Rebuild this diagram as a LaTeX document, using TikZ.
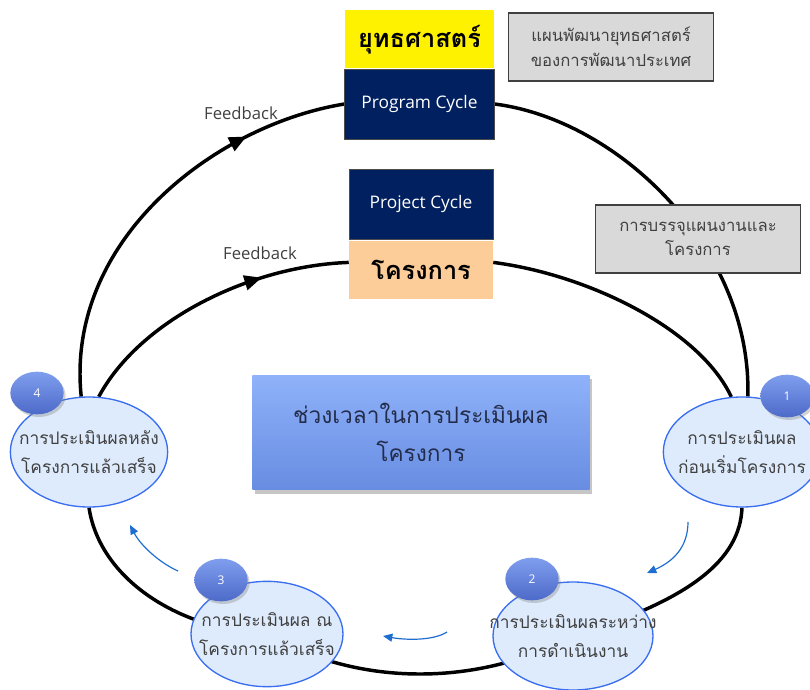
\documentclass[tikz,border=0pt]{standalone}
\usepackage{fontspec}
\setmainfont{Open Sans}
\newfontfamily\thaifont[Script=Thai]{Loma}
\usetikzlibrary{positioning, arrows.meta, shapes.geometric, shadows, decorations.markings, backgrounds}

\definecolor{navybox}{RGB}{0,32,96}
\definecolor{peachbox}{RGB}{252,204,153}
\definecolor{boxgray}{RGB}{217,217,217}
\definecolor{evalfill}{RGB}{222,235,252}
\definecolor{evalline}{RGB}{58,110,240}
\definecolor{flowblue}{RGB}{30,110,210}
\definecolor{badgetop}{RGB}{128,158,238}
\definecolor{badgebot}{RGB}{76,106,200}
\definecolor{centertop}{RGB}{143,178,250}
\definecolor{centerbot}{RGB}{104,140,225}
\definecolor{textdark}{RGB}{64,64,64}
\definecolor{titleblue}{RGB}{35,45,75}

\tikzset{
    cyclebox/.style={fill=navybox, draw=black!70, line width=0.6pt, text=white, font=\fontsize{13}{15}\selectfont, minimum width=112pt, minimum height=52.5pt, inner sep=0pt},
    headbox/.style={draw=none, text=black, font=\thaifont\bfseries\fontsize{19}{22}\selectfont, minimum width=112pt, minimum height=43.5pt, inner sep=0pt},
    notebox/.style={fill=boxgray, draw=black!75, line width=1pt, text=textdark, align=center, font=\thaifont\fontsize{12.5}{18.5}\selectfont, minimum width=154pt, minimum height=51pt, inner sep=0pt},
    evalnode/.style={ellipse, fill=evalfill, draw=evalline, line width=1pt, inner sep=0pt},
    evaltext/.style={align=center, text=textdark, font=\thaifont\fontsize{13}{22}\selectfont},
    badge/.style={ellipse, top color=badgetop, bottom color=badgebot, draw=none, text=white, font=\fontsize{9}{10}\selectfont, minimum width=40pt, minimum height=32pt, inner sep=0pt, drop shadow={opacity=0.35, shadow xshift=1.5pt, shadow yshift=-2pt}},
    cycleline/.style={line width=2.6pt, black},
    feedarrow/.style={postaction={decorate}, decoration={markings, mark=at position #1 with {\arrow{Triangle[length=13pt,width=11pt]}}}},
    flowarrow/.style={flowblue, line width=0.9pt, -{Triangle[length=7pt,width=6pt]}},
    feedlabel/.style={text=textdark, font=\fontsize{12.5}{14}\selectfont},
}

\begin{document}
\begin{tikzpicture}[x=0.75pt,y=0.75pt,yscale=-1,xscale=1]
    \useasboundingbox (0,0) rectangle (810,689);

    %Shape: Rectangle [program cycle]
    \draw (419.5,104) node [cyclebox] (prog) {Program Cycle};
    \node [headbox, fill=yellow, above=0pt of prog] (strat) {ยุทธศาสตร์};
    %Shape: Rectangle [project cycle]
    \draw (421,204) node [cyclebox, minimum width=108pt] (proj) {Project Cycle};
    \node [headbox, fill=peachbox, minimum width=108pt, below=1pt of proj] (proje) {โครงการ};

    %Shape: Rectangle [notes]
    \draw (611,47) node [notebox] (natplan) {แผนพัฒนายุทธศาสตร์\\ของการพัฒนาประเทศ};
    \draw (698,239) node [notebox] (budget) {การบรรจุแผนงานและ\\โครงการ};

    %Shape: Rectangle [centre title]
    \draw (421,432.5) node [top color=centertop, bottom color=centerbot, draw=none, minimum width=253pt, minimum height=86pt, inner sep=0pt, align=center, text=titleblue, font=\thaifont\fontsize{17}{28}\selectfont, drop shadow={opacity=0.45, shadow xshift=2pt, shadow yshift=-3pt}] (span) {ช่วงเวลาในการประเมินผล\\โครงการ};

    %Shape: Ellipse [stages]
    \draw (742,452) node [evalnode, minimum width=118pt, minimum height=82.5pt, label={[evaltext]center:{การประเมินผล\\ก่อนเริ่มโครงการ}}] (e1) {};
    \draw (573,636) node [evalnode, minimum width=120pt, minimum height=81pt, label={[evaltext]center:{การประเมินผลระหว่าง\\การดำเนินงาน}}] (e2) {};
    \draw (267,634) node [evalnode, minimum width=114pt, minimum height=79pt, label={[evaltext]center:{การประเมินผล ณ\\โครงการแล้วเสร็จ}}] (e3) {};
    \draw (89,452) node [evalnode, minimum width=118pt, minimum height=82.5pt, label={[evaltext]center:{การประเมินผลหลัง\\โครงการแล้วเสร็จ}}] (e4) {};

    % Text Node [badges]
    \draw (787,396) node [badge] (b1) {1};
    \draw (532,579) node [badge] (b2) {2};
    \draw (221,580) node [badge] (b3) {3};
    \draw (37,393) node [badge] (b4) {4};

    % Text Node [feedback]
    \draw (241,113) node [feedlabel] (fbout) {Feedback};
    \draw (260,253) node [feedlabel] (fbin) {Feedback};

    \begin{pgfonlayer}{background}
        %Curve: program loop
        \draw [cycleline, feedarrow=0.76] (e4.98) .. controls (65,240) and (215,125) .. (prog.west);
        \draw [cycleline] (prog.east) .. controls (620,120) and (752,250) .. (e1.84);
        %Curve: project loop
        \draw [cycleline, feedarrow=0.7] (e4.80) .. controls (140,320) and (250,266) .. (proje.174);
        \draw [cycleline] (proje.6) .. controls (590,275) and (700,330) .. (e1.101);
        %Curve: shared bottom
        \draw [cycleline] (e1.south) .. controls (740,560) and (690,600) .. (e2.center)
            .. controls (480,686) and (360,688) .. (e3.center)
            .. controls (180,630) and (100,580) .. (e4.south);
    \end{pgfonlayer}

    %Straight Lines [flow]
    \coordinate (a1s) at (688,522);
    \coordinate (a1e) at (647,573);
    \coordinate (a2s) at (447,632);
    \coordinate (a2e) at (383,636);
    \coordinate (a3s) at (178,571);
    \coordinate (a3e) at (130,525);
    \draw [flowarrow] (a1s) .. controls (688,548) and (672,562) .. (a1e);
    \draw [flowarrow] (a2s) .. controls (433,641) and (405,640) .. (a2e);
    \draw [flowarrow] (a3s) .. controls (160,563) and (141,546) .. (a3e);

\end{tikzpicture}
\end{document}
